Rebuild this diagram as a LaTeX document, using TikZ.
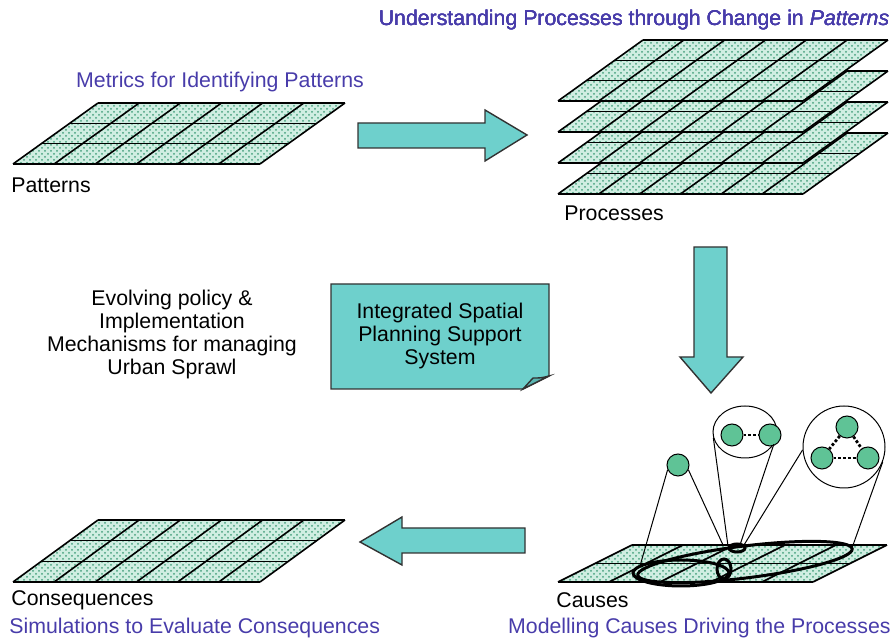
\documentclass[tikz,border=0pt]{standalone}
\usepackage{fontspec}
\setmainfont{Liberation Sans}
\usetikzlibrary{patterns,shapes.geometric}

\definecolor{textblue}{RGB}{72,60,170}
\definecolor{arrowteal}{RGB}{110,208,204}
\definecolor{notefold}{RGB}{90,180,176}
\definecolor{cellgreen}{RGB}{95,195,150}
\definecolor{landmint}{RGB}{208,238,226}
\definecolor{landdot}{RGB}{70,160,125}
\definecolor{edgegray}{RGB}{50,50,50}

\tikzset{
  gridline/.style = {line width=0.8pt, black},
  blockarrow/.style = {fill=arrowteal, draw=edgegray, line width=0.7pt, line join=miter},
  notebox/.style = {fill=arrowteal, draw=edgegray, line width=0.7pt},
  plainlabel/.style = {inner sep=0pt, font=\fontsize{10.65}{11.5}\selectfont},
  bluelabel/.style = {plainlabel, text=textblue},
  cell/.style = {circle, draw, fill=cellgreen, line width=0.5pt, minimum size=11pt, inner sep=0pt},
  ring/.style = {draw, fill=white, line width=0.5pt, inner sep=0pt},
  ringline/.style = {line width=1.5pt},
  beam/.style = {line width=0.5pt},
  tie/.style = {densely dotted, line width=1.4pt}
}

% top-left x, top y, width, depth, shear, columns, rows
\newcommand{\landplane}[7]{%
  \path[fill=landmint] (#1,#2) -- ++(#3,0) -- ++(-#5,#4) -- ++(-#3,0) -- cycle;
  \path[pattern=crosshatch dots, pattern color=landdot] (#1,#2) -- ++(#3,0) -- ++(-#5,#4) -- ++(-#3,0) -- cycle;
  \foreach \i in {0,...,#6}
    \draw[gridline] ({#1+\i*#3/#6},#2) -- ++(-#5,#4);
  \foreach \j in {0,...,#7}
    \draw[gridline] ({#1-\j*#5/#7},{#2+\j*#4/#7}) -- ++(#3,0);
}

\begin{document}
\begin{tikzpicture}[x=0.5pt, y=-0.5pt]
\useasboundingbox (0,0) rectangle (896,640);

% patterns
\landplane{98}{103}{247}{61}{85}{6}{3}
\node[bluelabel] (metrics) at (220,82) {Metrics for Identifying Patterns};
\node[plainlabel, anchor=west] (patterns) at (11,185) {Patterns};

% processes: stacked layers, bottom one first
\foreach \y in {133,102,71,40}
  \landplane{643}{\y}{245}{61}{85}{6}{3}
\node[bluelabel] (understanding) at (634,20) {Understanding Processes through Change in \textit{Patterns}};
\node[plainlabel, anchor=west] (processes) at (564,213) {Processes};

% block arrows
\draw[blockarrow] (358,123) -- (485,123) -- (485,110) -- (527,135) -- (485,161) -- (485,148) -- (358,148) -- cycle;
\draw[blockarrow] (694,247) -- (727,247) -- (727,357) -- (743,357) -- (711,393) -- (680,357) -- (694,357) -- cycle;
\draw[blockarrow] (525,528) -- (402,528) -- (402,517) -- (360,542) -- (402,565) -- (402,553) -- (525,553) -- cycle;

% policy text and support system note
\node[plainlabel, align=center] (policy) at (172,334) {Evolving policy \&\\Implementation\\Mechanisms for managing\\Urban Sprawl};
\draw[notebox] (331,284) -- (549,284) -- (549,376) -- (523,389) -- (331,389) -- cycle;
\draw[notebox, fill=notefold] (549,376) .. controls (541,378) .. (533,378) -- (523,389) -- cycle;
\node[plainlabel, align=center] (isps) at (440,336) {Integrated Spatial\\Planning Support\\System};

% consequences
\landplane{98}{520}{247}{62}{85}{6}{3}
\node[plainlabel, anchor=west] (consequences) at (11,600) {Consequences};
\node[bluelabel, anchor=west] (simulations) at (9,628) {Simulations to Evaluate Consequences};

% causes
\landplane{632}{545}{255}{37}{74}{5}{2}
\draw[ringline] (681,573) ellipse [x radius=24pt, y radius=6.5pt];
\draw[ringline, rotate around={7:(745,562)}] (745,562) ellipse [x radius=54pt, y radius=8pt];
\draw[ringline] (737,548) ellipse [x radius=4pt, y radius=2pt];
\draw[ringline] (724,569) ellipse [x radius=3.5pt, y radius=5pt];

\node[cell] (c1) at (678,465) {};
\node[ring, ellipse, minimum width=32pt, minimum height=26pt] (pair) at (745,432) {};
\node[ring, circle, minimum size=41pt] (triad) at (844,447) {};
\node[cell] (c2) at (732,435) {};
\node[cell] (c3) at (770,435) {};
\node[cell] (c4) at (847,427) {};
\node[cell] (c5) at (822,458) {};
\node[cell] (c6) at (868,458) {};
\draw[tie] (c2) -- (c3);
\draw[tie] (c4) -- (c5);
\draw[tie] (c4) -- (c6);
\draw[tie] (c5) -- (c6);

\coordinate (a1) at (640,566);
\coordinate (a2) at (723,545);
\coordinate (a3) at (728,546);
\coordinate (a4) at (740,545);
\coordinate (a5) at (744,545);
\coordinate (a6) at (852,548);
\draw[beam] (c1.205) -- (a1);
\draw[beam] (c1.335) -- (a2);
\draw[beam] (pair.191) -- (a3);
\draw[beam] (pair.337) -- (a4);
\draw[beam] (triad.184) -- (a5);
\draw[beam] (triad.339) -- (a6);

\node[plainlabel, anchor=west] (causes) at (556,600) {Causes};
\node[bluelabel, anchor=east] (modelling) at (891,628) {Modelling Causes Driving the Processes};
\end{tikzpicture}
\end{document}
